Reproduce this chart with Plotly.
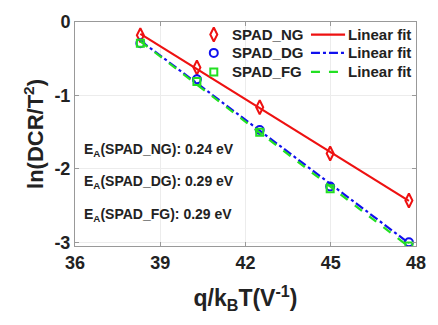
import numpy as np
import plotly.graph_objects as go

x_vals = [38.3, 40.29, 42.5, 44.98, 47.75]
ng_vals = [-0.18, -0.62, -1.16, -1.79, -2.43]
dg_vals = [-0.29, -0.78, -1.47, -2.24, -3.00]
fg_vals = [-0.29, -0.81, -1.50, -2.27, -3.05]
series_names = ["SPAD_NG", "SPAD_DG", "SPAD_FG"]
fit_label = "Linear fit"
ea_labels = ["E<sub>A</sub>(SPAD_NG): 0.24 eV",
             "E<sub>A</sub>(SPAD_DG): 0.29 eV",
             "E<sub>A</sub>(SPAD_FG): 0.29 eV"]
x_ticks = [36, 39, 42, 45, 48]
y_ticks = [-3, -2, -1, 0]
y_ticktext = ["-3", "-2", "-1", "0"]

FONT = "Liberation Sans, Arial, sans-serif"
colors = ["#ee1111", "#1010ee", "#22e022"]
symbols = ["diamond-tall-open", "circle-open", "square-open"]
msizes = [10, 8, 7]
dashes = ["solid", "dashdot", "dash"]

# legend layout (fractions of the plot area)
leg_rows = [0.944, 0.862, 0.777]
leg_marker_x = 0.407
leg_label_x = 0.455
leg_line_x = [0.692, 0.792]
leg_fit_x = 0.794

fig = go.Figure()
xa = np.array(x_vals)
for i, (name, vals, c, s, ms, d) in enumerate(zip(series_names, [ng_vals, dg_vals, fg_vals],
                                                  colors, symbols, msizes, dashes)):
    k, b = np.polyfit(xa, np.array(vals), 1)
    fig.add_trace(go.Scatter(x=x_vals, y=list(k * xa + b), mode="lines", showlegend=False,
                             line=dict(color=c, width=2.2, dash=d)))
    fig.add_trace(go.Scatter(x=x_vals, y=vals, mode="markers", showlegend=False,
                             marker=dict(symbol=s, color=c, size=ms, line=dict(width=2, color=c))))
    # legend entries on an overlay unit axis
    ry = leg_rows[i]
    fig.add_trace(go.Scatter(x=[leg_marker_x], y=[ry], mode="markers", xaxis="x2", yaxis="y2",
                             showlegend=False, hoverinfo="skip",
                             marker=dict(symbol=s, color=c, size=ms, line=dict(width=2, color=c))))
    fig.add_trace(go.Scatter(x=leg_line_x, y=[ry, ry], mode="lines", xaxis="x2", yaxis="y2",
                             showlegend=False, hoverinfo="skip",
                             line=dict(color=c, width=2.2, dash=d)))
    fig.add_annotation(text=name, xref="x2", yref="y2", x=leg_label_x, y=ry, xanchor="left",
                       yanchor="middle", showarrow=False,
                       font=dict(family=FONT, size=15, color="#222", weight="bold"))
    fig.add_annotation(text=fit_label, xref="x2", yref="y2", x=leg_fit_x, y=ry, xanchor="left",
                       yanchor="middle", showarrow=False,
                       font=dict(family=FONT, size=15, color="#222", weight="bold"))

ea_y = [0.427, 0.285, 0.137]
for t, yy in zip(ea_labels, ea_y):
    fig.add_annotation(text=t, xref="paper", yref="paper", x=0.02, y=yy,
                       xanchor="left", yanchor="middle", showarrow=False,
                       font=dict(family=FONT, size=14, color="#222", weight="bold"))

ax = dict(showline=True, linecolor="#999", linewidth=1, mirror="ticks", ticks="inside",
          ticklen=4, tickcolor="#999", showgrid=True, gridcolor="#ececec", zeroline=False,
          tickfont=dict(family=FONT, size=18, color="#222", weight="bold"))
fig.update_layout(
    xaxis=dict(range=[36, 48], tickvals=x_ticks,
               title=dict(text="q/k<sub>B</sub>T(V<sup>-1</sup>)",
                          font=dict(family=FONT, size=23, color="#222", weight="bold"), standoff=18), **ax),
    yaxis=dict(range=[-3.05, 0], tickvals=y_ticks, ticktext=y_ticktext,
               title=dict(text="ln(DCR/T<sup>2</sup>)",
                          font=dict(family=FONT, size=22, color="#222", weight="bold"), standoff=4), **ax),
    xaxis2=dict(overlaying="x", range=[0, 1], visible=False, fixedrange=True),
    yaxis2=dict(overlaying="y", range=[0, 1], visible=False, fixedrange=True),
    width=438, height=325, margin=dict(l=75, r=19, t=12, b=79),
    plot_bgcolor="white", paper_bgcolor="white",
    font=dict(family=FONT, color="#222"),
    showlegend=False,
)
fig.write_html("out.html")
